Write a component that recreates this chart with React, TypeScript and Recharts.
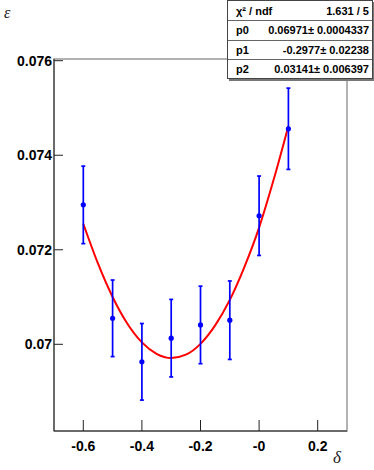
import {
  ComposedChart,
  Scatter,
  Line,
  XAxis,
  YAxis,
  ErrorBar,
  ReferenceArea,
} from "recharts";

// measured points: delta, efficiency, symmetric error
const deltas = [-0.6, -0.5, -0.4, -0.3, -0.2, -0.1, 0, 0.1];
const effs = [0.07295, 0.07055, 0.06963, 0.07013, 0.07041, 0.07051, 0.07272, 0.07456];
const errs = [0.00082, 0.00081, 0.00081, 0.00082, 0.00082, 0.00083, 0.00084, 0.00086];

// fitted curve
const fitX = [-0.6, -0.55, -0.5, -0.45, -0.4, -0.35, -0.3, -0.25, -0.2, -0.15, -0.1, -0.05, 0, 0.05, 0.1];
const fitY = [
  0.07255, 0.07171, 0.071, 0.07044, 0.07004, 0.0698, 0.06971, 0.06978, 0.07001,
  0.0704, 0.07094, 0.07164, 0.07247, 0.07349, 0.07462,
];

const xTicks = [-0.6, -0.4, -0.2, 0, 0.2];
const xTickLabels = ["-0.6", "-0.4", "-0.2", "-0", "0.2"];
const yTicks = [0.07, 0.072, 0.074, 0.076];
const yTickLabels = ["0.07", "0.072", "0.074", "0.076"];

const statNames = ["χ² / ndf", "p0", "p1", "p2"];
const statValues = ["1.631 / 5", "0.06971± 0.0004337", "-0.2977± 0.02238", "0.03141± 0.006397"];

const X_MIN = -0.7;
const X_MAX = 0.3;
const Y_MIN = 0.068166;
const Y_MAX = 0.076036;

const points = deltas.map((x, i) => ({ x, y: effs[i], err: errs[i] }));
const fit = fitX.map((x, i) => ({ x, y: fitY[i] }));

const tickFont = {
  fill: "#000",
  fontSize: 14,
  fontWeight: 700,
  fontFamily: "'Liberation Sans', Arial, sans-serif",
};

const Dot = (props: any) => <circle cx={props.cx} cy={props.cy} r={2.6} fill="#0000ff" />;

export default function App() {
  return (
    <div style={{ position: "absolute", left: 0, top: 0, width: 374, height: 470, background: "#fff" }}>
      <ComposedChart width={374} height={470} margin={{ top: 59, right: 27, bottom: 0, left: 0 }}>
        <ReferenceArea
          x1={X_MIN}
          x2={X_MAX}
          y1={Y_MIN}
          y2={Y_MAX}
          fill="none"
          stroke="#999"
          strokeWidth={1.5}
          ifOverflow="visible"
        />
        <XAxis
          type="number"
          dataKey="x"
          domain={[X_MIN, X_MAX]}
          ticks={xTicks}
          tickFormatter={(v) => xTickLabels[xTicks.indexOf(v)] ?? String(v)}
          tick={tickFont}
          tickSize={-11}
          tickMargin={21}
          height={39}
          axisLine={{ stroke: "#222" }}
          tickLine={{ stroke: "#222" }}
          allowDataOverflow
        />
        <YAxis
          type="number"
          dataKey="y"
          domain={[Y_MIN, Y_MAX]}
          ticks={yTicks}
          tickFormatter={(v) => yTickLabels[yTicks.indexOf(v)] ?? String(v)}
          tick={tickFont}
          tickSize={-9}
          tickMargin={11}
          width={54}
          axisLine={{ stroke: "#222" }}
          tickLine={{ stroke: "#222" }}
          allowDataOverflow
        />
        <Line
          data={fit}
          dataKey="y"
          type="monotone"
          stroke="#ff0000"
          strokeWidth={2}
          dot={false}
          isAnimationActive={false}
        />
        <Scatter data={points} dataKey="y" shape={<Dot />} isAnimationActive={false}>
          <ErrorBar dataKey="err" direction="y" width={2} stroke="#0000ff" strokeWidth={1.7} />
        </Scatter>
      </ComposedChart>

      <div
        style={{
          position: "absolute",
          left: 4,
          top: 4,
          fontFamily: "'Liberation Serif', serif",
          fontStyle: "italic",
          fontSize: 16,
          color: "#222",
        }}
      >
        ε
      </div>
      <div
        style={{
          position: "absolute",
          left: 333,
          top: 448,
          fontFamily: "'Liberation Serif', serif",
          fontStyle: "italic",
          fontSize: 17,
          color: "#222",
        }}
      >
        δ
      </div>

      <div
        style={{
          position: "absolute",
          left: 227,
          top: 0,
          width: 144,
          height: 77,
          border: "1px solid #444",
          background: "#fff",
          boxShadow: "2px 2px 0 #777",
          fontFamily: "'Liberation Sans', Arial, sans-serif",
          fontSize: 11,
          fontWeight: 700,
          color: "#000",
        }}
      >
        {statNames.map((name, i) => (
          <div
            key={name}
            style={{
              height: 19.25,
              boxSizing: "border-box",
              borderTop: i > 0 ? "1px solid #666" : "none",
              display: "flex",
              justifyContent: "space-between",
              alignItems: "center",
              padding: "0 3px 0 8px",
              whiteSpace: "nowrap",
            }}
          >
            <span>{name}</span>
            <span>{statValues[i]}</span>
          </div>
        ))}
      </div>
    </div>
  );
}
